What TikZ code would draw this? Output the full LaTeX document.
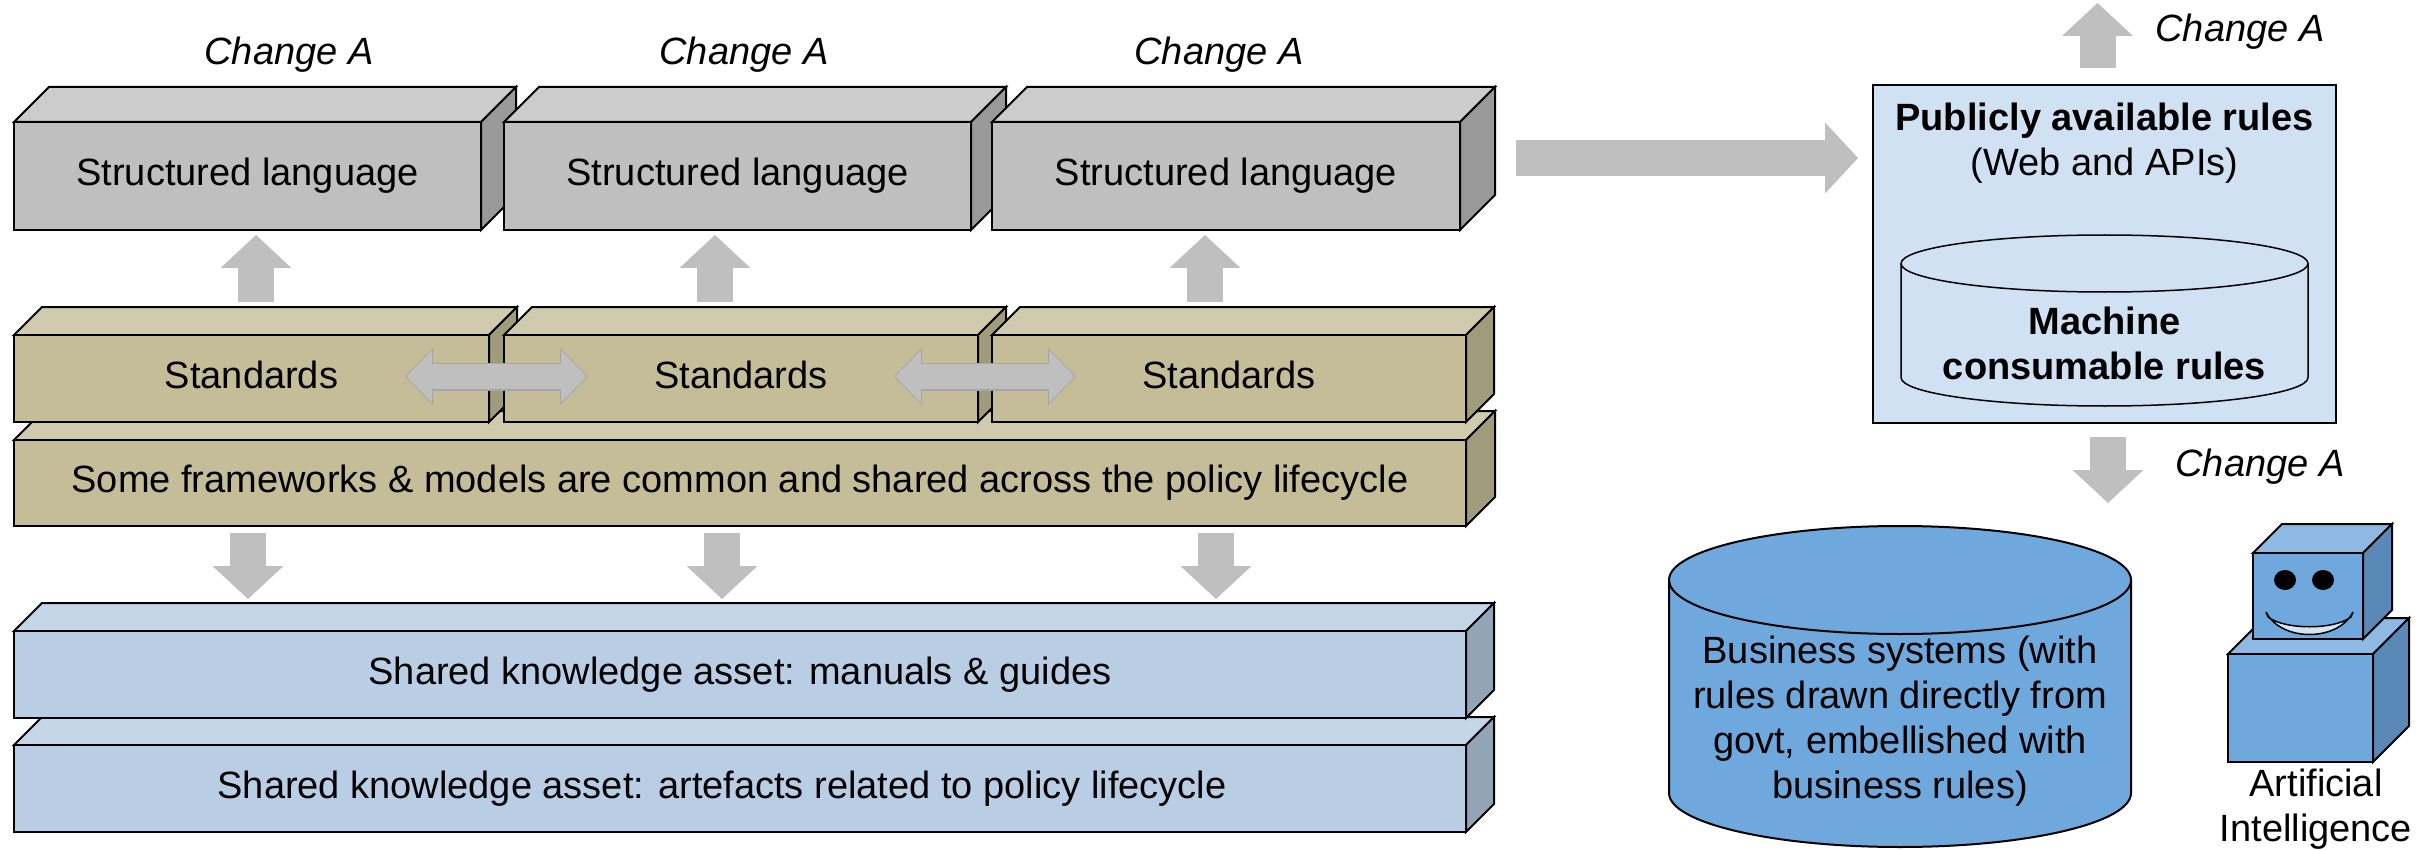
\documentclass[tikz,border=0pt]{standalone}
\usepackage{fontspec}
\setmainfont{Liberation Sans}
\usepackage{tikz}
\usetikzlibrary{arrows.meta,calc,positioning}

\definecolor{greyfront}{HTML}{BFBFBF}
\definecolor{greytop}{HTML}{CCCCCC}
\definecolor{greyside}{HTML}{999999}
\definecolor{tanfront}{HTML}{C4BD97}
\definecolor{tantop}{HTML}{D0CBAE}
\definecolor{tanside}{HTML}{A09B7A}
\definecolor{bluefront}{HTML}{B9CDE5}
\definecolor{bluetop}{HTML}{C6D6E9}
\definecolor{blueside}{HTML}{94A4B7}
\definecolor{robotfront}{HTML}{6FA8DC}
\definecolor{robottop}{HTML}{8DB9E4}
\definecolor{robotside}{HTML}{5B89B7}
\definecolor{arrowgrey}{HTML}{BFBFBF}
\definecolor{arrowedge}{HTML}{A6A6A6}
\definecolor{pubfill}{HTML}{CFE1F2}
\definecolor{smilefill}{HTML}{D5E4F3}

\tikzset{
  face/.style={draw, inner sep=0pt, outer sep=0pt, text height=27pt, text depth=8pt},
  fatarrow/.style={draw=arrowgrey, line width=36pt, -{Triangle[length=33pt,width=71pt,line width=0pt]}},
  dblout/.style={draw=arrowedge, line width=28pt,
    {Triangle[length=28pt,width=57pt,line width=0pt]}-{Triangle[length=28pt,width=57pt,line width=0pt]}},
  dblin/.style={draw=arrowgrey, line width=25.5pt, shorten <=1.3pt, shorten >=1.3pt,
    {Triangle[length=25.5pt,width=52pt,line width=0pt]}-{Triangle[length=25.5pt,width=52pt,line width=0pt]}},
  chg/.style={font=\fontsize{38}{45}\selectfont\itshape, anchor=base},
  boldtext/.style={font=\fontsize{38}{45}\selectfont\bfseries, align=center}
}

% front face as a named node, top and side faces drawn behind it
\newcommand\layerbox[8]{%
  \filldraw[fill=#7top] (#2,#3) -- (#2+#6,#3-#6) -- (#4+#6,#3-#6) -- (#4,#3) -- cycle;
  \filldraw[fill=#7side] (#4,#3) -- (#4+#6,#3-#6) -- (#4+#6,#5-#6) -- (#4,#5) -- cycle;
  \node [face, fill=#7front, minimum width={(#4-#2)*1pt}, minimum height={(#5-#3)*1pt}]
        (#1) at ({(#2+#4)/2},{(#3+#5)/2}) {#8};
}

\begin{document}
\begin{tikzpicture}[x=1pt, y=-1pt, line width=2pt,
    every node/.style={font=\fontsize{38}{45}\selectfont}]
    \useasboundingbox (0,0) rectangle (2435,850);

    \layerbox{sl1}{14}{122}{481}{230}{35}{grey}{Structured language}
    \layerbox{sl2}{504}{122}{971}{230}{35}{grey}{Structured language}
    \layerbox{sl3}{992}{122}{1460}{230}{35}{grey}{Structured language}

    \layerbox{fw}{14}{440}{1466}{526}{29}{tan}{Some frameworks \& models are common and shared across the policy lifecycle}
    \layerbox{std1}{14}{335}{489}{422}{28}{tan}{Standards}
    \layerbox{std2}{504}{335}{978}{422}{28}{tan}{Standards}
    \layerbox{std3}{992}{335}{1466}{422}{28}{tan}{Standards}

    \layerbox{art}{14}{745}{1466}{832}{28}{blue}{Shared knowledge asset: artefacts related to policy lifecycle\hspace*{36pt}}
    \layerbox{man}{14}{631}{1466}{718}{28}{blue}{Shared knowledge asset: manuals \& guides}

    \node [chg] (chg1) at (289,65) {Change A};
    \node [chg] (chg2) at (744,65) {Change A};
    \node [chg] (chg3) at (1219,65) {Change A};

    \draw [fatarrow] ($(std1.north)+(4.5pt,33pt)$) -- ($(std1.north |- sl1.south)+(4.5pt,-5pt)$);
    \draw [fatarrow] ($(std2.north)+(-26pt,33pt)$) -- ($(std2.north |- sl2.south)+(-26pt,-5pt)$);
    \draw [fatarrow] ($(std3.north)+(-24pt,33pt)$) -- ($(std3.north |- sl3.south)+(-24pt,-5pt)$);

    \draw [fatarrow] ($(std1.south |- fw.south)+(-3.5pt,-7pt)$) -- ($(std1.south |- man.north)+(-3.5pt,32pt)$);
    \draw [fatarrow] ($(std2.south |- fw.south)+(-19pt,-7pt)$) -- ($(std2.south |- man.north)+(-19pt,32pt)$);
    \draw [fatarrow] ($(std3.south |- fw.south)+(-13pt,-7pt)$) -- ($(std3.south |- man.north)+(-13pt,32pt)$);

    \draw [dblout] ($(std1.east)+(-84pt,2pt)$) -- ($(std2.west)+(84pt,2pt)$);
    \draw [dblin]  ($(std1.east)+(-84pt,2pt)$) -- ($(std2.west)+(84pt,2pt)$);
    \draw [dblout] ($(std2.east)+(-84pt,2pt)$) -- ($(std3.west)+(84pt,2pt)$);
    \draw [dblin]  ($(std2.east)+(-84pt,2pt)$) -- ($(std3.west)+(84pt,2pt)$);

    \node [draw, fill=pubfill, inner sep=0pt, outer sep=0pt, minimum width=463pt, minimum height=338pt]
          (pub) at (2104.5,254) {};
    \node [align=center] (pubtitle) at (2104.5,143) {\textbf{Publicly available rules}\\(Web and APIs)};
    \filldraw [fill=pubfill, line width=1.5pt] (1901,263.5) -- (1901,377.5)
        arc [start angle=180, end angle=360, x radius=203.5pt, y radius=28.5pt] -- (2308,263.5)
        arc [start angle=0, end angle=180, x radius=203.5pt, y radius=28.5pt] -- cycle;
    \draw [line width=1.5pt] (1901,263.5) arc [start angle=180, end angle=360, x radius=203.5pt, y radius=28.5pt];
    \node [boldtext] (mcr) at (2104.5,343) {Machine\\consumable rules};

    \draw [fatarrow] ($(sl3.east)+(56pt,18pt)$) -- ($(pub.west)+(-15pt,96pt)$);
    \draw [fatarrow] ($(pub.north)+(-7pt,17pt)$) -- ($(pub.north)+(-7pt,82pt)$);
    \draw [fatarrow] ($(pub.south)+(3.5pt,-14pt)$) -- ($(pub.south)+(3.5pt,-80pt)$);
    \node [chg] (chg4) at (2240,42) {Change A};
    \node [chg] (chg5) at (2260,476) {Change A};

    \filldraw [fill=robotfront] (1669,580) -- (1669,793)
        arc [start angle=180, end angle=360, x radius=231pt, y radius=54pt] -- (2131,580)
        arc [start angle=0, end angle=180, x radius=231pt, y radius=54pt] -- cycle;
    \draw (1669,580) arc [start angle=180, end angle=360, x radius=231pt, y radius=54pt];
    \node [align=center] (biz) at (1900,721) {Business systems (with\\rules drawn directly from\\govt, embellished with\\business rules)};

    \layerbox{body}{2228}{654}{2373}{762}{36}{robot}{}
    \layerbox{head}{2253}{553}{2363}{639}{29}{robot}{}
    \fill (2285,580) ellipse [x radius=11pt, y radius=10pt];
    \fill (2323,580) ellipse [x radius=11pt, y radius=10pt];
    \filldraw [fill=smilefill, line width=1.5pt] (2266,612) .. controls (2281,642) and (2338,642) .. (2353,612)
        -- (2351,617) .. controls (2334,630) and (2285,630) .. (2268,617) -- cycle;
    \node [align=center] (ai) at (2316,809) {Artificial\\Intelligence};
\end{tikzpicture}
\end{document}
